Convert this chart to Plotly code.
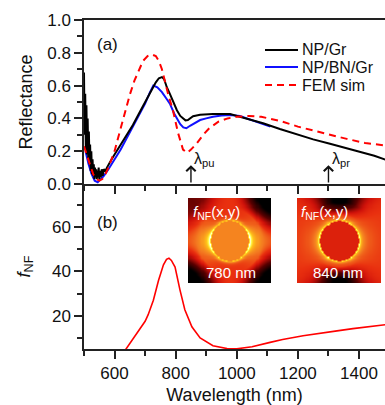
import numpy as np
import plotly.graph_objects as go

# ---------------- data ----------------
# (a) Reflectance spectra
wl_gr = [500, 502, 504, 506, 508, 510, 512, 514, 516, 518, 520, 522, 524, 526, 528, 530,
         532, 534, 536, 538, 540, 542, 544, 546, 548, 550, 552, 555, 558, 561, 565, 570,
         575, 580, 590, 600, 620, 640, 660, 680, 700, 720, 735, 745, 755, 762, 771, 781,
         792, 804, 815, 824, 832, 840, 857, 880, 922, 978, 1033, 1086, 1141, 1200, 1250,
         1305, 1350, 1400, 1450, 1487]
r_gr = [0.68, 0.30, 0.55, 0.20, 0.48, 0.18, 0.40, 0.15, 0.32, 0.12, 0.24, 0.08, 0.20, 0.06,
        0.15, 0.05, 0.12, 0.03, 0.10, 0.04, 0.09, 0.03, 0.08, 0.04, 0.10, 0.03, 0.08, 0.04,
        0.09, 0.05, 0.09, 0.08, 0.10, 0.12, 0.15, 0.18, 0.24, 0.30, 0.36, 0.43, 0.50, 0.57,
        0.62, 0.645, 0.652, 0.64, 0.59, 0.55, 0.50, 0.45, 0.415, 0.40, 0.388, 0.39, 0.413,
        0.422, 0.427, 0.427, 0.40, 0.37, 0.335, 0.30, 0.272, 0.245, 0.222, 0.198, 0.172, 0.148]

wl_bn = [505, 515, 525, 535, 545, 555, 565, 580, 600, 620, 640, 660, 680, 700, 715, 727,
         740, 755, 770, 781, 795, 804, 815, 825, 835, 847, 865, 880, 900, 922, 950, 978,
         1010, 1050, 1086, 1110]
r_bn = [0.20, 0.12, 0.06, 0.02, 0.01, 0.03, 0.05, 0.09, 0.15, 0.21, 0.28, 0.35, 0.42, 0.49,
        0.555, 0.60, 0.59, 0.56, 0.52, 0.49, 0.43, 0.40, 0.365, 0.345, 0.34, 0.355, 0.375,
        0.39, 0.40, 0.41, 0.417, 0.42, 0.415, 0.388, 0.366, 0.35]

wl_fem = [500, 510, 520, 530, 540, 550, 560, 570, 580, 590, 600, 610, 620, 635, 650, 665,
          680, 693, 708, 722, 735, 745, 755, 765, 775, 791, 808, 824, 837, 850, 870, 890,
          910, 940, 970, 1000, 1040, 1080, 1141, 1200, 1250, 1305, 1360, 1420, 1487]
r_fem = [0.23, 0.17, 0.11, 0.06, 0.03, 0.02, 0.03, 0.06, 0.10, 0.15, 0.20, 0.27, 0.34,
         0.45, 0.545, 0.63, 0.70, 0.75, 0.78, 0.79, 0.78, 0.75, 0.70, 0.62, 0.55, 0.45,
         0.31, 0.21, 0.19, 0.21, 0.25, 0.30, 0.34, 0.38, 0.40, 0.41, 0.415, 0.41, 0.385,
         0.35, 0.325, 0.30, 0.275, 0.25, 0.235]

# (b) near-field enhancement
wl_nf = [630, 645, 660, 683, 700, 710, 727, 744, 760, 770, 778, 786, 798, 814, 830, 853,
         880, 922, 968, 1000, 1050, 1109, 1150, 1217, 1270, 1328, 1380, 1436, 1487]
f_nf = [3.5, 6.5, 9.2, 13.7, 17.5, 20.5, 27.0, 36.0, 43.0, 45.5, 46.0, 45.0, 42.0, 31.7,
        22.7, 15.0, 10.0, 6.5, 5.2, 5.1, 6.0, 8.0, 9.3, 11.0, 12.2, 13.2, 14.2, 15.2, 16.0]

# arrow markers (nm)
lam_pu = 850
lam_pr = 1300
inset_labels = ["780 nm", "840 nm"]
legend_names = ["NP/Gr", "NP/BN/Gr", "FEM sim"]

x_range = [500, 1485]

FONT = "Arial, 'Liberation Sans', sans-serif"
C_BLACK, C_BLUE, C_RED = "#000000", "#1010ff", "#ff0000"
DASH = "7px,5px"


# ---------------- inset field maps (illustrative images) ----------------
def field_map(kind, n=80):
    xs = np.linspace(-1, 1, n)
    X, Y = np.meshgrid(xs, xs)
    r = np.sqrt(X ** 2 + Y ** 2)
    th = np.arctan2(Y, X)
    R = 0.47
    d = np.clip(r - R, 0, None)
    if kind == 0:
        inside = 0.68
        rim = (np.exp(-d / 0.03) * 0.33 + np.exp(-d / 0.08) * 0.06
               + np.exp(-d / 0.30) * 0.33 * np.cos(th) ** 4)
        dark = 0.62 * np.sin(2 * th) ** 2 * np.clip((r - 0.78) / 0.4, 0, 1)
        dark *= np.where((X < 0) & (Y > 0), 0.45, 1.0)
    else:
        inside = 0.50
        rim = (np.exp(-d / 0.035) * 0.30 + np.exp(-d / 0.09) * 0.10
               + np.exp(-d / 0.30) * 0.14 * np.cos(th) ** 2)
        dark = 0.62 * np.sin(th) ** 8 * np.clip((r - 0.62) / 0.3, 0, 1)
    out = 0.55 + rim - dark
    z = np.where(r >= R, out, inside)
    return np.clip(z, 0, 1)


hot = [[0.0, "#000000"], [0.25, "#5a0000"], [0.45, "#d0120a"], [0.55, "#e9300f"],
       [0.66, "#f37a20"], [0.8, "#ffc21a"], [0.9, "#ffff55"], [1.0, "#ffffff"]]

fig = go.Figure()

# (a) traces
fig.add_trace(go.Scatter(x=wl_bn, y=r_bn, mode="lines", name=legend_names[1],
                         line=dict(color=C_BLUE, width=2), xaxis="x2", yaxis="y2"))
fig.add_trace(go.Scatter(x=wl_gr, y=r_gr, mode="lines", name=legend_names[0],
                         line=dict(color=C_BLACK, width=2), xaxis="x2", yaxis="y2"))
fig.add_trace(go.Scatter(x=wl_fem, y=r_fem, mode="lines", name=legend_names[2],
                         line=dict(color=C_RED, width=2, dash=DASH),
                         xaxis="x2", yaxis="y2"))
# (b) trace
fig.add_trace(go.Scatter(x=wl_nf, y=f_nf, mode="lines", name="f_NF",
                         line=dict(color=C_RED, width=1.6), xaxis="x", yaxis="y"))

# insets
for i, ax in enumerate(["3", "4"]):
    fig.add_trace(go.Heatmap(z=field_map(i), colorscale=hot, zmin=0, zmax=1,
                             showscale=False, zsmooth="best", hoverinfo="skip",
                             xaxis="x" + ax, yaxis="y" + ax))

split = (349 - 184) / 329.0
axis_common = dict(showline=True, linewidth=1.5, linecolor="#222", ticks="outside",
                   ticklen=8, tickwidth=1.5, tickcolor="#222", showgrid=False,
                   zeroline=False, tickfont=dict(family=FONT, size=17, color="#111"))
minor_common = dict(ticks="outside", ticklen=5, tickwidth=1.5, tickcolor="#222")


def px_x(px):
    return (px - 84) / 301.0


def px_y(py):
    return (349 - py) / 329.0


inset_y = [px_y(283), px_y(198)]
inset_x = [[px_x(188), px_x(271)], [px_x(297), px_x(381)]]
hidden = dict(visible=False, showgrid=False, zeroline=False, fixedrange=True)

fig.update_layout(
    width=385, height=405,
    margin=dict(l=84, r=0, t=20, b=56),
    paper_bgcolor="white", plot_bgcolor="white",
    font=dict(family=FONT, size=16, color="#111"),
    showlegend=False,
    xaxis=dict(domain=[0, 1], range=x_range, anchor="y", tick0=0, dtick=200,
               minor=dict(dtick=100, **minor_common),
               title=dict(text="Wavelength (nm)", font=dict(family=FONT, size=18), standoff=6),
               **axis_common),
    yaxis=dict(domain=[0, split], range=[5, 79.5], anchor="x", tick0=0, dtick=20,
               minor=dict(dtick=10, **minor_common),
               title=dict(text="<i>f</i><sub>NF</sub>", font=dict(family=FONT, size=18), standoff=17),
               **axis_common),
    xaxis2=dict(domain=[0, 1], range=x_range, anchor="y2", tick0=0, dtick=200,
                showticklabels=False, mirror=True,
                minor=dict(dtick=100, **minor_common),
                **axis_common),
    yaxis2=dict(domain=[split, 1], range=[0, 1], anchor="x2", tick0=0, dtick=0.2,
                tickformat=".1f",
                minor=dict(dtick=0.1, **minor_common),
                title=dict(text="Reflectance", font=dict(family=FONT, size=18), standoff=10),
                **axis_common),
    xaxis3=dict(domain=inset_x[0], anchor="y3", **hidden),
    yaxis3=dict(domain=inset_y, anchor="x3", **hidden),
    xaxis4=dict(domain=inset_x[1], anchor="y4", **hidden),
    yaxis4=dict(domain=inset_y, anchor="x4", **hidden),
)

ann = []
shapes = []


def label(text, px, py, size=17, color="#111", xanchor="center"):
    ann.append(dict(text=text, x=px_x(px), y=px_y(py), xref="paper", yref="paper",
                    xanchor=xanchor, yanchor="middle", showarrow=False,
                    font=dict(family=FONT, size=size, color=color)))


# panel labels
label("(a)", 107, 45)
label("(b)", 107, 222)

# legend (drawn manually for exact spacing)
for name, color, dash, py in [(legend_names[0], C_BLACK, "solid", 50),
                              (legend_names[1], C_BLUE, "solid", 67),
                              (legend_names[2], C_RED, DASH, 85)]:
    shapes.append(dict(type="line", xref="paper", yref="paper",
                       x0=px_x(265), x1=px_x(298), y0=px_y(py), y1=px_y(py),
                       line=dict(color=color, width=2, dash=dash)))
    label(name, 300, py, size=16, xanchor="left")

# arrows
for lam, sub in [(lam_pu, "pu"), (lam_pr, "pr")]:
    ann.append(dict(x=lam, y=0.115, ax=lam, ay=0.0, xref="x2", yref="y2", axref="x2", ayref="y2",
                    text="", showarrow=True, arrowhead=4, arrowsize=1.3, arrowwidth=1.4,
                    arrowcolor="#111"))
    ann.append(dict(x=lam + 5, y=0.15, xref="x2", yref="y2", xanchor="left", yanchor="middle",
                    text="λ<sub>" + sub + "</sub>", showarrow=False,
                    font=dict(family=FONT, size=16, color="#111")))

# inset texts
for cx, cx2, lab in [(216, 231, inset_labels[0]), (324, 338, inset_labels[1])]:
    label("<i>f</i><sub>NF</sub>(x,y)", cx, 213, size=15, color="white")
    label(lab, cx2, 272, size=15, color="white")

fig.update_layout(annotations=ann, shapes=shapes)

fig.write_html("out.html")
